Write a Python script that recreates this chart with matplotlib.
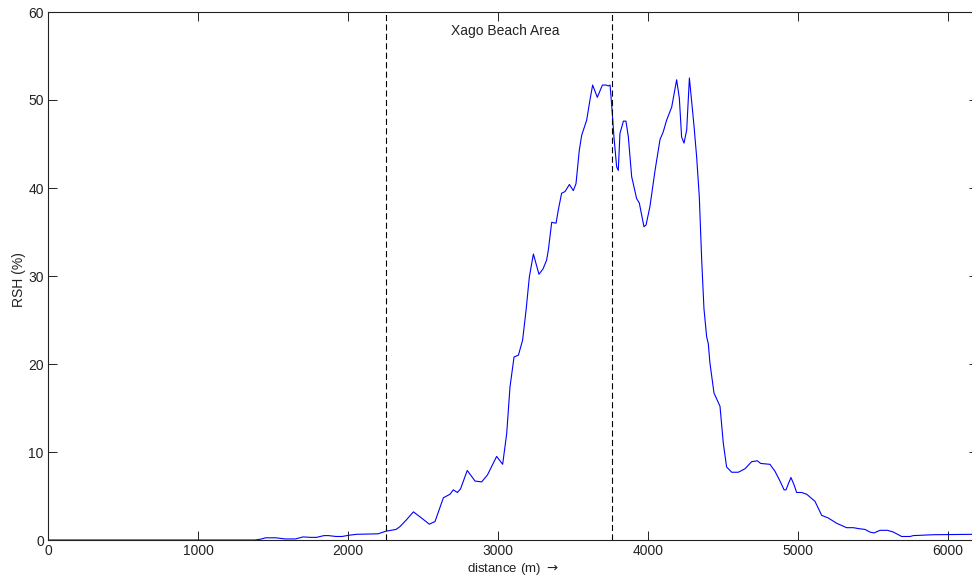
import matplotlib
matplotlib.use("Agg")
import matplotlib.pyplot as plt

# RSH profile along the coast
dist = [0, 1380, 1420, 1450, 1520, 1580, 1650, 1700, 1750, 1790, 1840, 1870, 1920, 1960,
        2010, 2060, 2200, 2253, 2320, 2345, 2390, 2436, 2490, 2542, 2580, 2636, 2680, 2702,
        2729, 2750, 2795, 2847, 2891, 2930, 2991, 3031, 3058, 3080, 3107, 3136, 3164, 3187,
        3209, 3236, 3273, 3300, 3324, 3336, 3358, 3387, 3402, 3424, 3447, 3476, 3502, 3520,
        3542, 3558, 3591, 3613, 3631, 3662, 3696, 3720, 3736, 3747, 3758, 3773, 3791, 3802,
        3813, 3836, 3853, 3869, 3891, 3924, 3942, 3973, 3987, 4013, 4047, 4080, 4102, 4124,
        4158, 4191, 4209, 4224, 4240, 4258, 4276, 4284, 4307, 4324, 4342, 4358, 4373, 4391,
        4402, 4413, 4440, 4480, 4502, 4524, 4558, 4602, 4647, 4691, 4729, 4751, 4813, 4847,
        4880, 4907, 4920, 4936, 4953, 4973, 4991, 5024, 5058, 5113, 5158, 5202, 5258, 5324,
        5369, 5402, 5447, 5480, 5507, 5547, 5596, 5636, 5691, 5747, 5769, 5902, 6200]
rsh = [0, 0, 0.1, 0.25, 0.25, 0.12, 0.12, 0.35, 0.3, 0.3, 0.5, 0.5, 0.4, 0.4,
       0.55, 0.65, 0.7, 1.0, 1.2, 1.5, 2.3, 3.2, 2.5, 1.8, 2.1, 4.8, 5.2, 5.7,
       5.4, 5.8, 7.9, 6.7, 6.6, 7.4, 9.5, 8.6, 12.1, 17.4, 20.8, 21.0, 22.7, 26.1,
       29.9, 32.5, 30.2, 30.8, 31.8, 33.0, 36.1, 36.0, 37.5, 39.4, 39.6, 40.4, 39.7, 40.5,
       44.3, 46.0, 47.7, 50.0, 51.7, 50.3, 51.7, 51.7, 51.6, 51.7, 49.4, 45.8, 42.4, 42.0,
       46.2, 47.6, 47.6, 45.8, 41.3, 38.8, 38.3, 35.6, 35.8, 37.9, 42.0, 45.5, 46.4, 47.7,
       49.2, 52.3, 50.2, 45.8, 45.1, 46.6, 52.5, 51.1, 47.0, 43.6, 39.0, 31.8, 26.3, 23.1,
       22.3, 20.1, 16.7, 15.2, 11.0, 8.3, 7.7, 7.7, 8.1, 8.9, 9.0, 8.7, 8.6, 7.8,
       6.7, 5.7, 5.7, 6.4, 7.1, 6.3, 5.4, 5.4, 5.2, 4.4, 2.8, 2.5, 1.9, 1.4,
       1.4, 1.3, 1.2, 0.9, 0.8, 1.1, 1.1, 0.9, 0.4, 0.4, 0.5, 0.6, 0.65]

beach_edges = [2253, 3760]
beach_label = "Xago Beach Area"

plt.rcParams['font.family'] = ['Liberation Sans', 'DejaVu Sans']
plt.rcParams['font.size'] = 10

fig = plt.figure(figsize=(9.72, 5.79), dpi=100)
# axes run a bit past the right edge of the picture, like the original crop
ax = fig.add_axes([48 / 972, 39 / 579, 930 / 972, 528 / 579])

ax.plot(dist, rsh, color="#0000ff", lw=0.8)
for xe in beach_edges:
  ax.axvline(xe, color="black", lw=0.8, linestyle=(0, (5.5, 3)))
ax.text(3047, 57.8, beach_label, ha="center", va="center", color="#222222")

ax.set_xlim(0, 6200)
ax.set_ylim(0, 60)
ax.set_xticks(range(0, 7000, 1000))
ax.set_yticks(range(0, 70, 10))
ax.tick_params(direction="in", length=6.5, width=0.7, top=True, right=True,
               colors="#222222", labelcolor="#222222", pad=3)
for s in ax.spines.values():
  s.set_linewidth(0.8)
  s.set_color("#222222")

ax.set_ylabel("RSH (%)", color="#222222")
ax.set_xlabel(r"distance (m) $\rightarrow$", color="#222222", fontsize=9.5)
ax.xaxis.set_label_coords(0.5, -0.040)
ax.yaxis.set_label_coords(-0.024, 0.493)

fig.savefig("out.png", dpi=100)
